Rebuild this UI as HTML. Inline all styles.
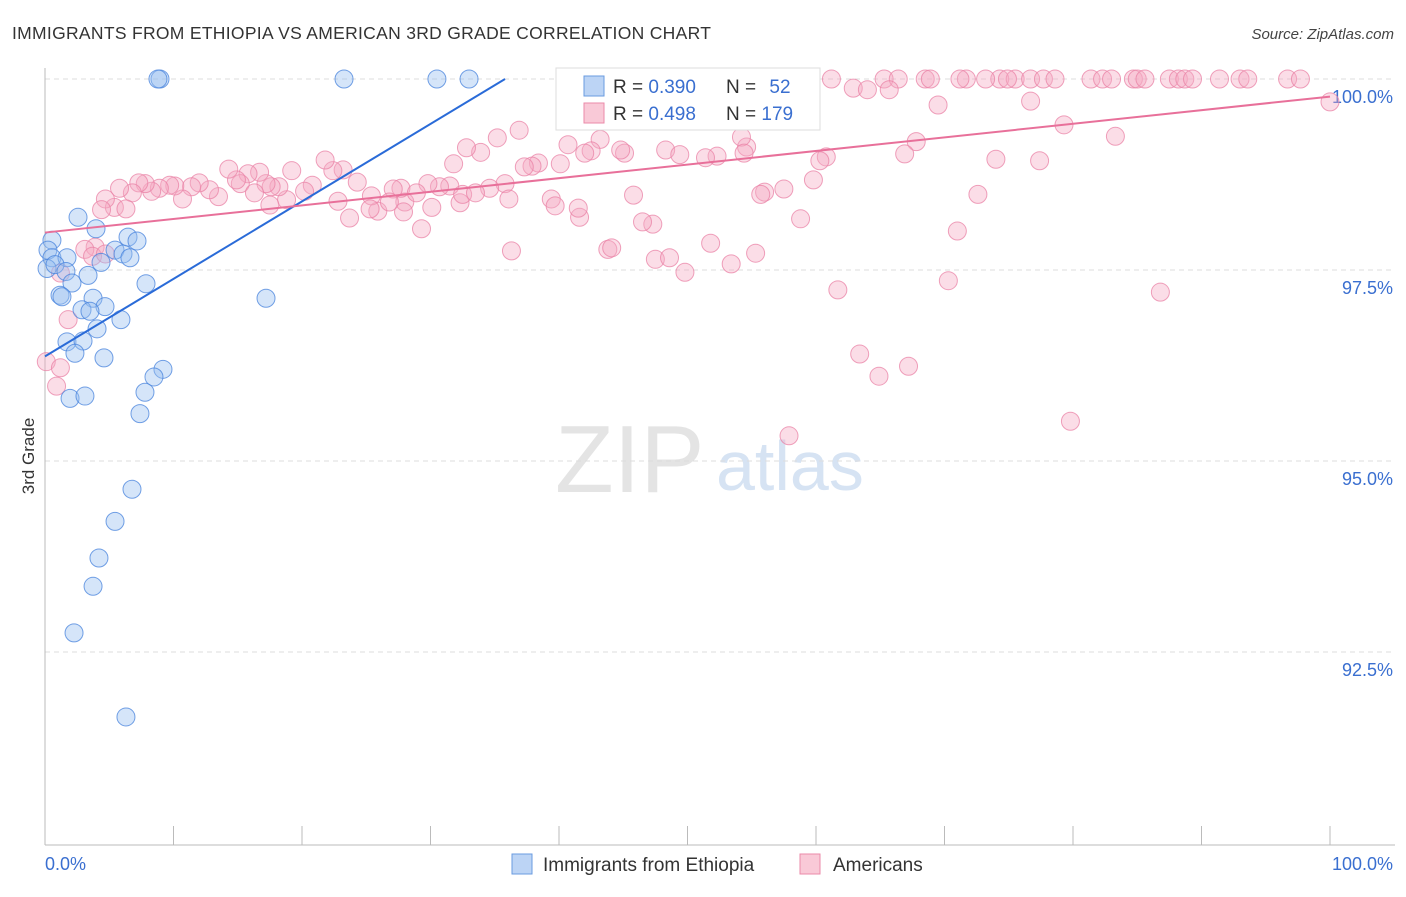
<!DOCTYPE html>
<html><head><meta charset="utf-8"><style>
body{margin:0;background:#fff;font-family:"Liberation Sans",sans-serif;}
svg text{font-family:"Liberation Sans",sans-serif;}
</style></head><body>
<svg id="chart" width="1406" height="892" xmlns="http://www.w3.org/2000/svg">
<text x="12" y="39" font-size="17.5" fill="#333" letter-spacing="0.3">IMMIGRANTS FROM ETHIOPIA VS AMERICAN 3RD GRADE CORRELATION CHART</text>
<text x="1394" y="39" font-size="15" fill="#444" font-style="italic" text-anchor="end">Source: ZipAtlas.com</text>
<g>
<text x="555" y="492" font-size="96" font-family="Liberation Serif,serif" fill="#e4e4e4">ZIP</text>
<text x="716" y="490" font-size="70" fill="#d6e3f3">atlas</text>
</g>
<g id="grid"></g>
<g id="axes"></g>
<g id="pts"></g>
<g id="lines"></g>
<text transform="translate(34,456) rotate(-90)" font-size="17" fill="#333" text-anchor="middle">3rd Grade</text>
<g>
<rect x="556" y="68" width="264" height="62" fill="#fff" stroke="#ddd"/>
<rect x="584" y="76" width="20" height="20" fill="#bcd4f5" stroke="#6a9be0"/>
<rect x="584" y="103" width="20" height="20" fill="#f9c9d7" stroke="#eb8aa8"/>
<text x="613" y="93" font-size="19" fill="#333">R = <tspan fill="#3a6fd0">0.390</tspan></text>
<text x="726" y="93" font-size="19" fill="#333">N = <tspan fill="#3a6fd0" dx="8">52</tspan></text>
<text x="613" y="120" font-size="19" fill="#333">R = <tspan fill="#3a6fd0">0.498</tspan></text>
<text x="726" y="120" font-size="19" fill="#333">N = <tspan fill="#3a6fd0">179</tspan></text>
</g>
<g>
<rect x="512" y="854" width="20" height="20" fill="#bcd4f5" stroke="#6a9be0"/>
<text x="543" y="871" font-size="19" fill="#333">Immigrants from Ethiopia</text>
<rect x="800" y="854" width="20" height="20" fill="#f9c9d7" stroke="#eb8aa8"/>
<text x="833" y="871" font-size="19" fill="#333">Americans</text>
</g>
</svg>
<script>
const yTicks=[100,97.5,95,92.5];
const yTickLabels=["100.0%","97.5%","95.0%","92.5%"];
const blueX=[8.95,8.79,23.27,30.5,33.0,2.57,0.54,3.97,0.23,0.54,1.71,5.45,6.46,7.16,6.07,6.61,4.36,0.16,0.78,1.63,3.35,2.10,7.86,1.17,1.32,3.74,17.2,2.88,4.67,3.50,5.91,4.05,1.71,2.96,2.33,4.59,9.18,8.48,1.95,3.11,7.78,7.39,6.77,5.45,4.20,3.74,2.26,6.30];
const blueY=[100,100,100,100,100,98.19,97.89,98.04,97.76,97.66,97.66,97.76,97.93,97.88,97.71,97.66,97.60,97.52,97.57,97.48,97.43,97.33,97.32,97.17,97.15,97.13,97.13,96.98,97.02,96.96,96.85,96.73,96.56,96.57,96.41,96.35,96.20,96.10,95.82,95.85,95.90,95.62,94.63,94.21,93.73,93.36,92.75,91.65];
const pinkX=[59.2,61.2,65.3,66.4,68.5,68.9,71.7,71.2,74.3,75.5,76.7,77.7,78.6,81.4,82.3,83.0,84.7,85.0,85.6,87.5,88.2,88.7,89.3,91.4,93.0,93.6,96.7,97.7,74.9,73.2,
57.4,55.4,62.9,64.0,65.7,69.5,76.7,100,79.3,83.3,86.8,79.8,71.0,72.6,74.0,77.4,67.8,66.9,63.4,64.9,67.2,70.3,61.7,59.8,58.8,60.8,60.3,57.5,56.0,55.7,55.3,53.4,52.3,51.4,54.6,54.2,53.9,52.2,50.7,48.3,49.4,47.3,47.5,48.6,49.8,51.8,45.8,45.1,44.8,43.2,42.5,40.7,40.1,38.4,37.9,37.3,36.9,35.2,33.9,32.8,31.8,31.5,32.3,30.1,30.7,29.8,29.3,28.0,27.7,27.1,27.9,25.9,25.4,25.3,23.7,24.3,22.8,23.2,22.4,21.8,20.8,20.2,19.2,18.8,18.2,17.6,17.2,16.7,15.8,15.2,14.9,14.3,13.5,12.8,12.0,11.4,10.7,10.1,9.7,8.9,8.3,7.8,7.3,6.8,5.8,5.4,4.7,4.4,6.3,41.6,41.5,39.4,39.7,35.8,36.3,34.6,32.5,43.8,44.1,46.5,54.4,42.0,3.9,3.1,3.7,4.7,1.2,1.8,0.1,1.2,0.9,36.1,28.9,33.5,26.8,17.5,16.3,57.9];
const pinkY=[100,100,100,100,100,100,100,100,100,100,100,100,100,100,100,100,100,100,100,100,100,100,100,100,100,100,100,100,100,100,
99.78,99.71,99.88,99.86,99.86,99.66,99.71,99.70,99.40,99.25,97.21,95.52,98.01,98.49,98.95,98.93,99.18,99.02,96.40,96.11,96.24,97.36,97.24,98.68,98.17,98.98,98.93,98.56,98.52,98.49,97.72,97.58,98.99,98.97,99.11,99.24,99.59,99.63,99.48,99.07,99.01,98.10,97.64,97.66,97.47,97.85,98.48,99.03,99.07,99.21,99.06,99.14,98.89,98.90,98.86,98.85,99.33,99.23,99.04,99.10,98.89,98.60,98.38,98.32,98.59,98.63,98.04,98.39,98.57,98.56,98.26,98.27,98.47,98.30,98.18,98.65,98.40,98.81,98.80,98.94,98.61,98.53,98.80,98.42,98.59,98.59,98.63,98.78,98.76,98.63,98.68,98.82,98.46,98.55,98.64,98.59,98.43,98.60,98.61,98.57,98.53,98.63,98.64,98.51,98.57,98.32,98.43,98.29,98.30,98.19,98.31,98.43,98.34,98.63,97.75,98.57,98.49,97.77,97.79,98.13,99.03,99.03,97.80,97.77,97.68,97.71,97.46,96.85,96.30,96.22,95.98,98.43,98.51,98.51,98.39,98.35,98.51,95.33];
const blueTrend=[[0,96.37],[35.8,100]];
const pinkTrend=[[0,97.99],[100,99.77]];
const X0=45,X1=1330,YTOP=79,PXPER=76.4,YBOT=845;
const sx=v=>X0+(X1-X0)*v/100;
const sy=v=>YTOP+(100-v)*PXPER;
const NS="http://www.w3.org/2000/svg";
function mk(t,a,p){const e=document.createElementNS(NS,t);for(const k in a)e.setAttribute(k,a[k]);p.appendChild(e);return e;}
const grid=document.getElementById('grid'),axes=document.getElementById('axes'),pts=document.getElementById('pts'),lines=document.getElementById('lines');
yTicks.forEach((v,i)=>{
 const g=mk('line',{x1:X0,x2:1395,y1:sy(v),y2:sy(v),stroke:'#ddd','stroke-dasharray':'5,4'},grid);
 
 
 const t=mk('text',{x:1393,y:sy(v)+24,'font-size':18,fill:'#3a6fd0','text-anchor':'end'},axes);
 t.textContent=yTickLabels[i];
 
 
});
const ax=mk('line',{x1:X0,x2:X0,y1:68,y2:YBOT,stroke:'#bbb'},axes);


const bx=mk('line',{x1:X0,x2:1395,y1:YBOT,y2:YBOT,stroke:'#bbb'},axes);


for(let i=0;i<=10;i++){const tk=mk('line',{x1:sx(i*10),x2:sx(i*10),y1:826,y2:YBOT,stroke:'#bbb'},axes);
 
 }
const l0=mk('text',{x:45,y:870,'font-size':18,fill:'#3a6fd0'},axes);l0.textContent='0.0%';


const l1=mk('text',{x:1393,y:870,'font-size':18,fill:'#3a6fd0','text-anchor':'end'},axes);l1.textContent='100.0%';


pinkX.forEach((v,i)=>{const c=mk('circle',{cx:sx(v),cy:sy(pinkY[i]),r:9,fill:'rgba(246,170,196,0.4)',stroke:'rgba(234,130,165,0.75)','stroke-width':1},pts);
 
 });
blueX.forEach((v,i)=>{const c=mk('circle',{cx:sx(v),cy:sy(blueY[i]),r:9,fill:'rgba(150,190,240,0.4)',stroke:'rgba(70,130,220,0.75)','stroke-width':1},pts);
 
 });
const bl=mk('line',{x1:sx(blueTrend[0][0]),y1:sy(blueTrend[0][1]),x2:sx(blueTrend[1][0]),y2:sy(blueTrend[1][1]),stroke:'#2a6bd8','stroke-width':2},lines);


const pl=mk('line',{x1:sx(pinkTrend[0][0]),y1:sy(pinkTrend[0][1]),x2:sx(pinkTrend[1][0]),y2:sy(pinkTrend[1][1]),stroke:'#e8709a','stroke-width':2},lines);


</script>
</body></html>
